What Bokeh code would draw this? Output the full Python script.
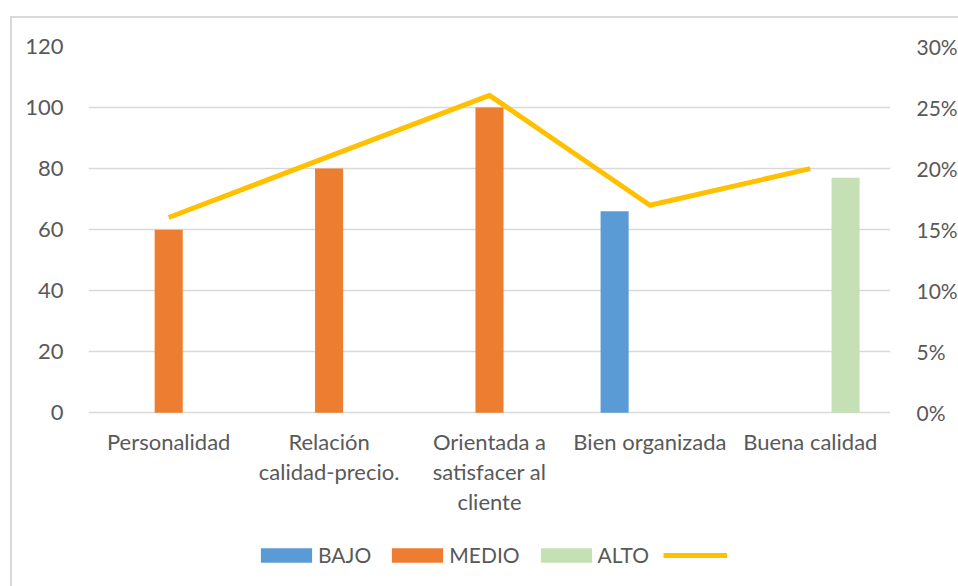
from bokeh.plotting import figure
from bokeh.models import (FactorRange, Range1d, LinearAxis, NumeralTickFormatter,
                          Legend, LegendItem, FixedTicker, ColumnDataSource)
from bokeh.core.properties import value
from bokeh.transform import dodge
from bokeh.embed import file_html
from bokeh.resources import INLINE

categories = ["Personalidad", "Relación\ncalidad-precio.", "Orientada a\nsatisfacer al\ncliente",
              "Bien organizada", "Buena calidad"]
bajo = [0, 0, 0, 66, 0]
medio = [60, 80, 100, 0, 0]
alto = [0, 0, 0, 0, 77]
porcentaje = [0.16, 0.21, 0.26, 0.17, 0.20]
left_ticks = [0, 20, 40, 60, 80, 100, 120]
right_ticks = [0, 0.05, 0.10, 0.15, 0.20, 0.25, 0.30]

FONT = "Lato"
TXT = "#595959"
GRID = "#d9d9d9"

src = ColumnDataSource(dict(cat=categories, bajo=bajo, medio=medio, alto=alto, pct=porcentaje,
                            zero=[0] * len(categories)))

# frame spans from the 120 gridline down to the bottom of the picture;
# value 0 sits 175 px above the bottom (365 px for 120 units)
below_units = 120 * 175 / 365
p = figure(x_range=FactorRange(*categories), y_range=Range1d(-below_units, 120),
           width=948, height=570, output_backend="svg", toolbar_location=None,
           x_axis_location=None,
           min_border_left=76, min_border_right=68, min_border_top=28, min_border_bottom=0)
p.styles = {"border-left": "2px solid #d9d9d9", "border-top": "2px solid #d9d9d9",
            "margin-left": "10px", "margin-top": "16px"}
p.outline_line_color = None
p.extra_y_ranges = {"pct": Range1d(-below_units * 0.30 / 120, 0.30)}

w = 0.175
r_b = p.vbar(x=dodge("cat", -0.22, range=p.x_range), top="bajo", width=w, source=src,
             fill_color="#5B9BD5", line_color=None)
r_m = p.vbar(x=dodge("cat", 0.0, range=p.x_range), top="medio", width=w, source=src,
             fill_color="#ED7D31", line_color=None)
r_a = p.vbar(x=dodge("cat", 0.22, range=p.x_range), top="alto", width=w, source=src,
             fill_color="#C5E0B4", line_color=None)
r_l = p.line(x="cat", y="pct", source=src, y_range_name="pct", line_color="#FFC000",
             line_width=5, line_join="round")

# category labels (drawn as text under the zero line)
p.text(x="cat", y="zero", text="cat", source=src, y_offset=15,
       text_align="center", text_baseline="top", text_font=value(FONT),
       text_font_size="22px", text_color=TXT, text_line_height=1.12)

# axes
p.yaxis.ticker = FixedTicker(ticks=left_ticks)
right = LinearAxis(y_range_name="pct", ticker=FixedTicker(ticks=right_ticks),
                   formatter=NumeralTickFormatter(format="0%"))
p.add_layout(right, "right")

for ax in [p.yaxis[0], right]:
    ax.axis_line_color = None
    ax.major_tick_line_color = None
    ax.minor_tick_line_color = None
    ax.major_label_text_font = FONT
    ax.major_label_text_font_size = "22px"
    ax.major_label_text_color = TXT
right.major_label_text_font_size = "21px"
p.yaxis[0].major_label_standoff = 19
right.major_label_standoff = 20

p.xgrid.grid_line_color = None
p.ygrid.grid_line_color = GRID
p.ygrid.grid_line_width = 1.5

legend = Legend(items=[LegendItem(label="BAJO", renderers=[r_b]),
                       LegendItem(label="MEDIO", renderers=[r_m]),
                       LegendItem(label="ALTO", renderers=[r_a]),
                       LegendItem(label=" ", renderers=[r_l])],
                orientation="horizontal", location=(166, 21),
                glyph_width=64, glyph_height=18, spacing=14, label_standoff=0,
                padding=0, margin=0, border_line_color=None, background_fill_alpha=0,
                label_text_font=FONT, label_text_font_size="21px", label_text_color=TXT)
p.add_layout(legend, "center")

open("out.html", "w").write(file_html(p, INLINE))
